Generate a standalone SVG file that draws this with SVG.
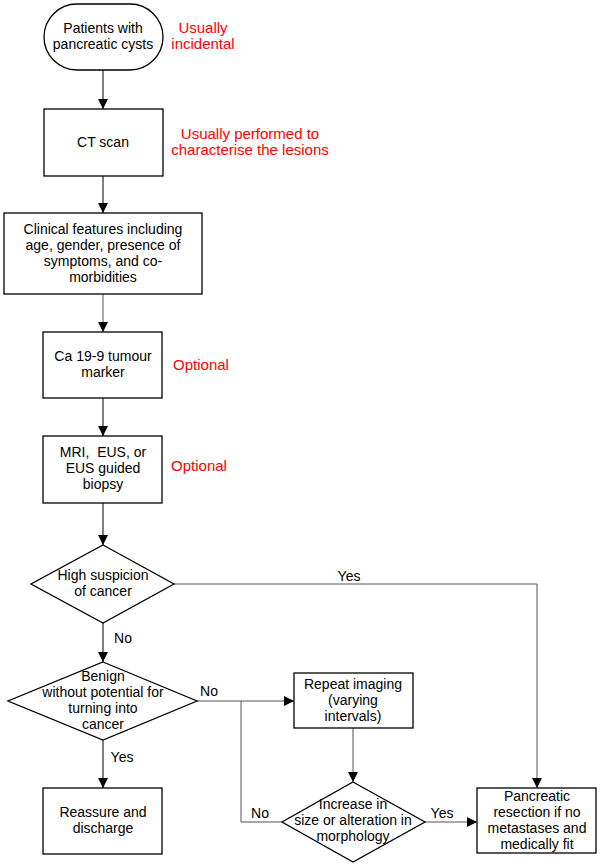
<svg xmlns="http://www.w3.org/2000/svg" width="600" height="866" viewBox="0 0 600 866">
<defs>
<marker id="ah" markerWidth="10" markerHeight="10" refX="10" refY="5" orient="auto" markerUnits="userSpaceOnUse">
<path d="M0,0 L10,5 L0,10 Z" fill="#000"/>
</marker>
</defs>
<style>
.n{fill:#fff;stroke:#000;stroke-width:1.3}
.t{font-family:"Liberation Sans",Arial,sans-serif;font-size:14px;fill:#000;text-anchor:middle}
.r{font-family:"Liberation Sans",Arial,sans-serif;font-size:15px;fill:#ff0000;text-anchor:middle}
.c{fill:none;stroke:#000;stroke-width:1}
.g{fill:none;stroke:#555;stroke-width:1}
</style>
<rect width="600" height="866" fill="#fff"/>
<g id="connectors">
<line class="c" x1="103" y1="70" x2="103" y2="109" marker-end="url(#ah)"/>
<line class="c" x1="103" y1="176" x2="103" y2="213" marker-end="url(#ah)"/>
<line class="g" x1="103" y1="294" x2="103" y2="332" marker-end="url(#ah)"/>
<line class="c" x1="103" y1="398" x2="103" y2="436" marker-end="url(#ah)"/>
<line class="c" x1="103" y1="503" x2="103" y2="545" marker-end="url(#ah)"/>
<line class="c" x1="103" y1="623" x2="103" y2="662" marker-end="url(#ah)"/>
<line class="c" x1="103" y1="740" x2="103" y2="788" marker-end="url(#ah)"/>
<polyline class="g" points="174,584 537,584 537,788" marker-end="url(#ah)"/>
<line class="g" x1="197" y1="701" x2="294" y2="701" marker-end="url(#ah)"/>
<polyline class="g" points="241,701 241,822 282,822"/>
<line class="g" x1="353" y1="728" x2="353" y2="782" marker-end="url(#ah)"/>
<line class="g" x1="425" y1="822" x2="477" y2="822" marker-end="url(#ah)"/>
<text class="t" x="349" y="581">Yes</text>
<text class="t" x="123" y="643">No</text>
<text class="t" x="209" y="696">No</text>
<text class="t" x="260" y="818">No</text>
<text class="t" x="122" y="762">Yes</text>
<text class="t" x="442" y="818">Yes</text>
</g>
<g id="start">
<rect class="n" x="44" y="4" width="119" height="66" rx="33" ry="33"/>
<text class="t" x="103" y="33">Patients with</text>
<text class="t" x="103" y="49">pancreatic cysts</text>
</g>
<g id="note-incidental">
<text class="r" x="203" y="33">Usually</text>
<text class="r" x="203" y="49">incidental</text>
</g>
<g id="ct">
<rect class="n" x="44" y="109" width="119" height="67"/>
<text class="t" x="103" y="147">CT scan</text>
</g>
<g id="note-ct">
<text class="r" x="250" y="139">Usually performed to</text>
<text class="r" x="250" y="155">characterise the lesions</text>
</g>
<g id="clinical">
<rect class="n" x="4" y="213" width="198" height="81"/>
<text class="t" x="103" y="234">Clinical features including</text>
<text class="t" x="103" y="250">age, gender, presence of</text>
<text class="t" x="103" y="266">symptoms, and co-</text>
<text class="t" x="103" y="282">morbidities</text>
</g>
<g id="ca199">
<rect class="n" x="43" y="332" width="119" height="66"/>
<text class="t" x="103" y="361">Ca 19-9 tumour</text>
<text class="t" x="103" y="377">marker</text>
</g>
<g id="note-ca">
<text class="r" x="201" y="370">Optional</text>
</g>
<g id="mri">
<rect class="n" x="43" y="436" width="119" height="67"/>
<text class="t" x="103" y="457" xml:space="preserve" style="white-space:pre">MRI,  EUS, or</text>
<text class="t" x="103" y="473">EUS guided</text>
<text class="t" x="103" y="489">biopsy</text>
</g>
<g id="note-mri">
<text class="r" x="199" y="471">Optional</text>
</g>
<g id="suspicion">
<polygon class="n" points="103,545 174,584 103,623 31,584"/>
<text class="t" x="103" y="580">High suspicion</text>
<text class="t" x="103" y="596">of cancer</text>
</g>
<g id="benign">
<polygon class="n" points="103,662 197,701 103,740 8,701"/>
<text class="t" x="103" y="681">Benign</text>
<text class="t" x="103" y="697">without potential for</text>
<text class="t" x="103" y="713">turning into</text>
<text class="t" x="103" y="729">cancer</text>
</g>
<g id="repeat">
<rect class="n" x="294" y="673" width="119" height="55"/>
<text class="t" x="353" y="689">Repeat imaging</text>
<text class="t" x="353" y="705">(varying</text>
<text class="t" x="353" y="721">intervals)</text>
</g>
<g id="increase">
<polygon class="n" points="353,782 425,822 353,862 282,822"/>
<text class="t" x="353" y="809">Increase in</text>
<text class="t" x="353" y="825">size or alteration in</text>
<text class="t" x="353" y="841">morphology</text>
</g>
<g id="reassure">
<rect class="n" x="43" y="788" width="119" height="66"/>
<text class="t" x="103" y="817">Reassure and</text>
<text class="t" x="103" y="833">discharge</text>
</g>
<g id="resection">
<rect class="n" x="477" y="788" width="119" height="65"/>
<text class="t" x="537" y="801">Pancreatic</text>
<text class="t" x="537" y="817">resection if no</text>
<text class="t" x="537" y="833">metastases and</text>
<text class="t" x="537" y="849">medically fit</text>
</g>
</svg>
